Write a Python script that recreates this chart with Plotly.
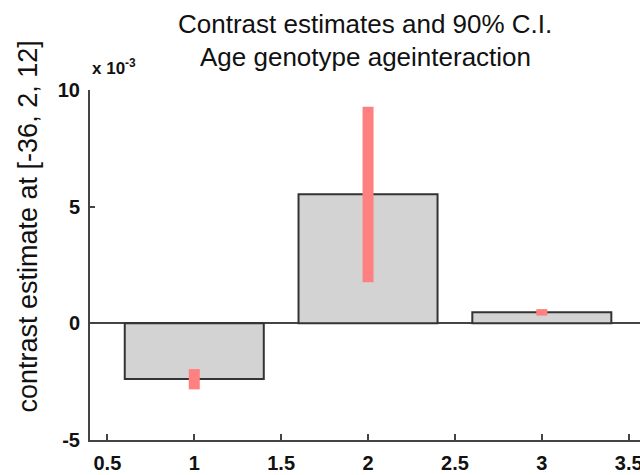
import plotly.graph_objects as go

# Contrast estimates (x 10^-3) with 90% confidence limits
conditions = [1, 2, 3]
estimates = [-2.39, 5.53, 0.47]
ci_lower = [-2.83, 1.76, 0.33]
ci_upper = [-1.96, 9.28, 0.61]

x_ticks = [0.5, 1, 1.5, 2, 2.5, 3, 3.5]
y_ticks = [-5, 0, 5, 10]

err_plus = [u - e for u, e in zip(ci_upper, estimates)]
err_minus = [e - l for e, l in zip(estimates, ci_lower)]

tick_font = dict(family="Liberation Sans Narrow, Liberation Sans, Arial, sans-serif",
                 size=20, color="#111111", weight="bold")
text_font = "Liberation Sans, Arial, sans-serif"

fig = go.Figure()
fig.add_trace(go.Bar(
    x=conditions,
    y=estimates,
    width=0.8,
    marker=dict(color="#d3d3d3", line=dict(color="#333333", width=2)),
    error_y=dict(type="data", symmetric=False, array=err_plus,
                 arrayminus=err_minus, color="#ff8080",
                 thickness=11, width=0),
    showlegend=False,
))

fig.update_layout(
    width=640, height=475,
    margin=dict(l=90, r=0, t=90, b=35, autoexpand=False),
    paper_bgcolor="white",
    plot_bgcolor="white",
    xaxis=dict(
        range=[0.4, 3.565],
        tickvals=x_ticks,
        ticktext=[f"{v:g}" for v in x_ticks],
        ticks="inside", ticklen=6, tickwidth=1.5, tickcolor="#444444",
        showgrid=False, zeroline=False, automargin=False,
        showline=True, linecolor="#444444", linewidth=2,
        tickfont=tick_font, ticklabelstandoff=4,
        ticklabeloverflow="allow",
    ),
    yaxis=dict(
        range=[-5, 10],
        tickvals=y_ticks,
        ticktext=[str(v) for v in y_ticks],
        ticks="inside", ticklen=5, tickwidth=1.5, tickcolor="#444444",
        showgrid=False, automargin=False,
        zeroline=True, zerolinecolor="#444444", zerolinewidth=1.5,
        showline=True, linecolor="#444444", linewidth=2,
        tickfont=tick_font, ticklabelstandoff=4,
        ticklabeloverflow="allow",
    ),
    annotations=[
        dict(text="Contrast estimates and 90% C.I.", xref="paper", yref="paper",
             x=0.5, y=1.19, xanchor="center", yanchor="middle", showarrow=False,
             font=dict(family=text_font, size=26, color="#111111")),
        dict(text="Age genotype ageinteraction", xref="paper", yref="paper",
             x=0.5, y=1.094, xanchor="center", yanchor="middle", showarrow=False,
             font=dict(family=text_font, size=26, color="#111111")),
        dict(text="contrast estimate at [-36, 2, 12]", xref="paper", yref="paper",
             x=(27 - 90) / 550, y=0.61, xanchor="center", yanchor="middle",
             textangle=-90, showarrow=False,
             font=dict(family=text_font, size=27, color="#111111")),
        dict(text="x 10<sup>-3</sup>", xref="paper", yref="paper",
             x=0.0, y=1.065, xanchor="left", yanchor="middle", showarrow=False,
             font=dict(family=text_font, size=17, color="#111111", weight="bold")),
    ],
)

fig.write_html("out.html")
